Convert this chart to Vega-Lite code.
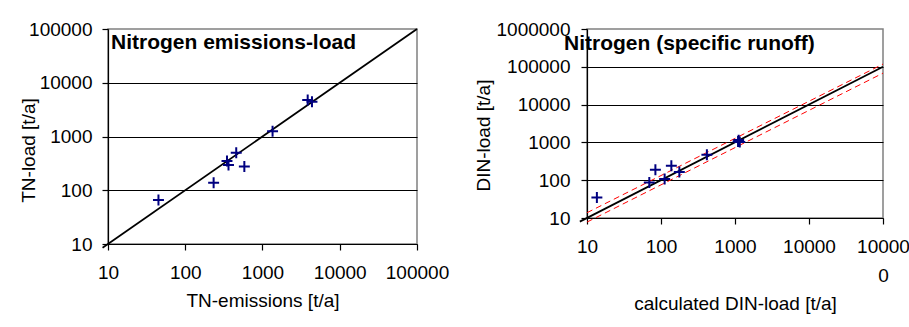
{
  "$schema": "https://vega.github.io/schema/vega-lite/v6.json",
  "padding": {"left": 18, "top": 19, "right": 0, "bottom": 0},
  "background": "white",
  "spacing": 23,
  "config": {
    "font": "Liberation Sans",
    "view": {"stroke": "#808080", "strokeWidth": 1.5},
    "axis": {
      "labelFont": "Liberation Sans", "labelFontSize": 19, "labelColor": "black",
      "titleFont": "Liberation Sans", "titleFontSize": 19, "titleFontWeight": "normal", "titleColor": "black",
      "domainColor": "black", "domainWidth": 1.2, "tickColor": "black", "tickSize": 6, "tickWidth": 1.2,
      "gridColor": "black", "gridWidth": 1, "labelFlush": false, "labelOverlap": false
    }
  },
  "hconcat": [
    {
      "width": 309, "height": 215,
      "encoding": {
        "x": {"field": "emissions", "type": "quantitative",
          "scale": {"type": "log", "domain": [10, 100000], "nice": false},
          "axis": {"values": [10, 100, 1000, 10000, 100000], "format": "d", "title": "TN-emissions [t/a]", "grid": false, "labelPadding": 13.6, "titlePadding": 9}},
        "y": {"field": "load", "type": "quantitative",
          "scale": {"type": "log", "domain": [10, 100000], "nice": false},
          "axis": {"values": [10, 100, 1000, 10000, 100000], "format": "d", "title": "TN-load [t/a]", "grid": true,
            "gridOpacity": {"condition": {"test": "datum.value == 100000", "value": 0}, "value": 1},
            "labelPadding": 10, "titlePadding": 0, "minExtent": 70, "maxExtent": 70, "titleY": 121}}
      },
      "layer": [
        {
          "data": {"values": [{"emissions": 8.5, "load": 8.5}, {"emissions": 100000, "load": 100000}]},
          "mark": {"type": "line", "color": "black", "strokeWidth": 1.8}
        },
        {
          "data": {"values": [
            {"emissions": 45, "load": 66},
            {"emissions": 233, "load": 138},
            {"emissions": 347, "load": 350},
            {"emissions": 363, "load": 295},
            {"emissions": 457, "load": 500},
            {"emissions": 582, "load": 276},
            {"emissions": 1350, "load": 1250},
            {"emissions": 3846, "load": 4775},
            {"emissions": 4370, "load": 4440}
          ]},
          "mark": {"type": "point", "shape": "M-1,0H1M0,-1V1", "filled": false, "stroke": "#000080", "strokeWidth": 2, "size": 120, "opacity": 1}
        },
        {
          "data": {"values": [{"emissions": 10, "load": 100000, "label": "Nitrogen emissions-load"}]},
          "mark": {"type": "text", "align": "left", "baseline": "alphabetic", "dx": 3, "dy": 20.3, "font": "Liberation Sans", "fontSize": 21, "fontWeight": "bold", "color": "black"},
          "encoding": {"text": {"field": "label"}}
        }
      ]
    },
    {
      "width": 296, "height": 189,
      "encoding": {
        "x": {"field": "calculated", "type": "quantitative",
          "scale": {"type": "log", "domain": [10, 100000], "nice": false},
          "axis": {"values": [10, 100, 1000, 10000, 100000], "format": "d",
            "labelExpr": "datum.value == 100000 ? ['10000', '0'] : datum.label",
            "labelLineHeight": 29,
            "title": "calculated DIN-load [t/a]", "grid": false, "labelPadding": 13.6, "titlePadding": 9}},
        "y": {"field": "din", "type": "quantitative",
          "scale": {"type": "log", "domain": [10, 1000000], "nice": false},
          "axis": {"values": [10, 100, 1000, 10000, 100000, 1000000], "format": "d", "title": "DIN-load [t/a]", "grid": true,
            "gridOpacity": {"condition": {"test": "datum.value == 1000000", "value": 0}, "value": 1},
            "labelPadding": 11, "titlePadding": 0, "minExtent": 94, "maxExtent": 94, "titleY": 106}}
      },
      "layer": [
        {
          "data": {"values": [
            {"calculated": 10, "din": 13.8, "band": "upper"},
            {"calculated": 100000, "din": 118000, "band": "upper"},
            {"calculated": 10, "din": 7.8, "band": "lower"},
            {"calculated": 100000, "din": 68000, "band": "lower"}
          ]},
          "mark": {"type": "line", "color": "#ff0000", "strokeWidth": 1, "strokeDash": [6, 4]},
          "encoding": {"detail": {"field": "band"}}
        },
        {
          "data": {"values": [{"calculated": 8, "din": 8}, {"calculated": 100000, "din": 100000}]},
          "mark": {"type": "line", "color": "black", "strokeWidth": 1.8}
        },
        {
          "data": {"values": [
            {"calculated": 13.6, "din": 35},
            {"calculated": 69.5, "din": 87},
            {"calculated": 84, "din": 190},
            {"calculated": 112, "din": 108},
            {"calculated": 138, "din": 242},
            {"calculated": 177, "din": 165},
            {"calculated": 417, "din": 473},
            {"calculated": 1100, "din": 1060},
            {"calculated": 1160, "din": 1020},
            {"calculated": 1120, "din": 1150}
          ]},
          "mark": {"type": "point", "shape": "M-1,0H1M0,-1V1", "filled": false, "stroke": "#000080", "strokeWidth": 2, "size": 120, "opacity": 1}
        },
        {
          "data": {"values": [{"calculated": 10, "din": 1000000, "label": "Nitrogen (specific runoff)"}]},
          "mark": {"type": "text", "align": "left", "baseline": "alphabetic", "dx": -23, "dy": 21, "font": "Liberation Sans", "fontSize": 21, "fontWeight": "bold", "color": "black"},
          "encoding": {"text": {"field": "label"}}
        }
      ]
    }
  ]
}
